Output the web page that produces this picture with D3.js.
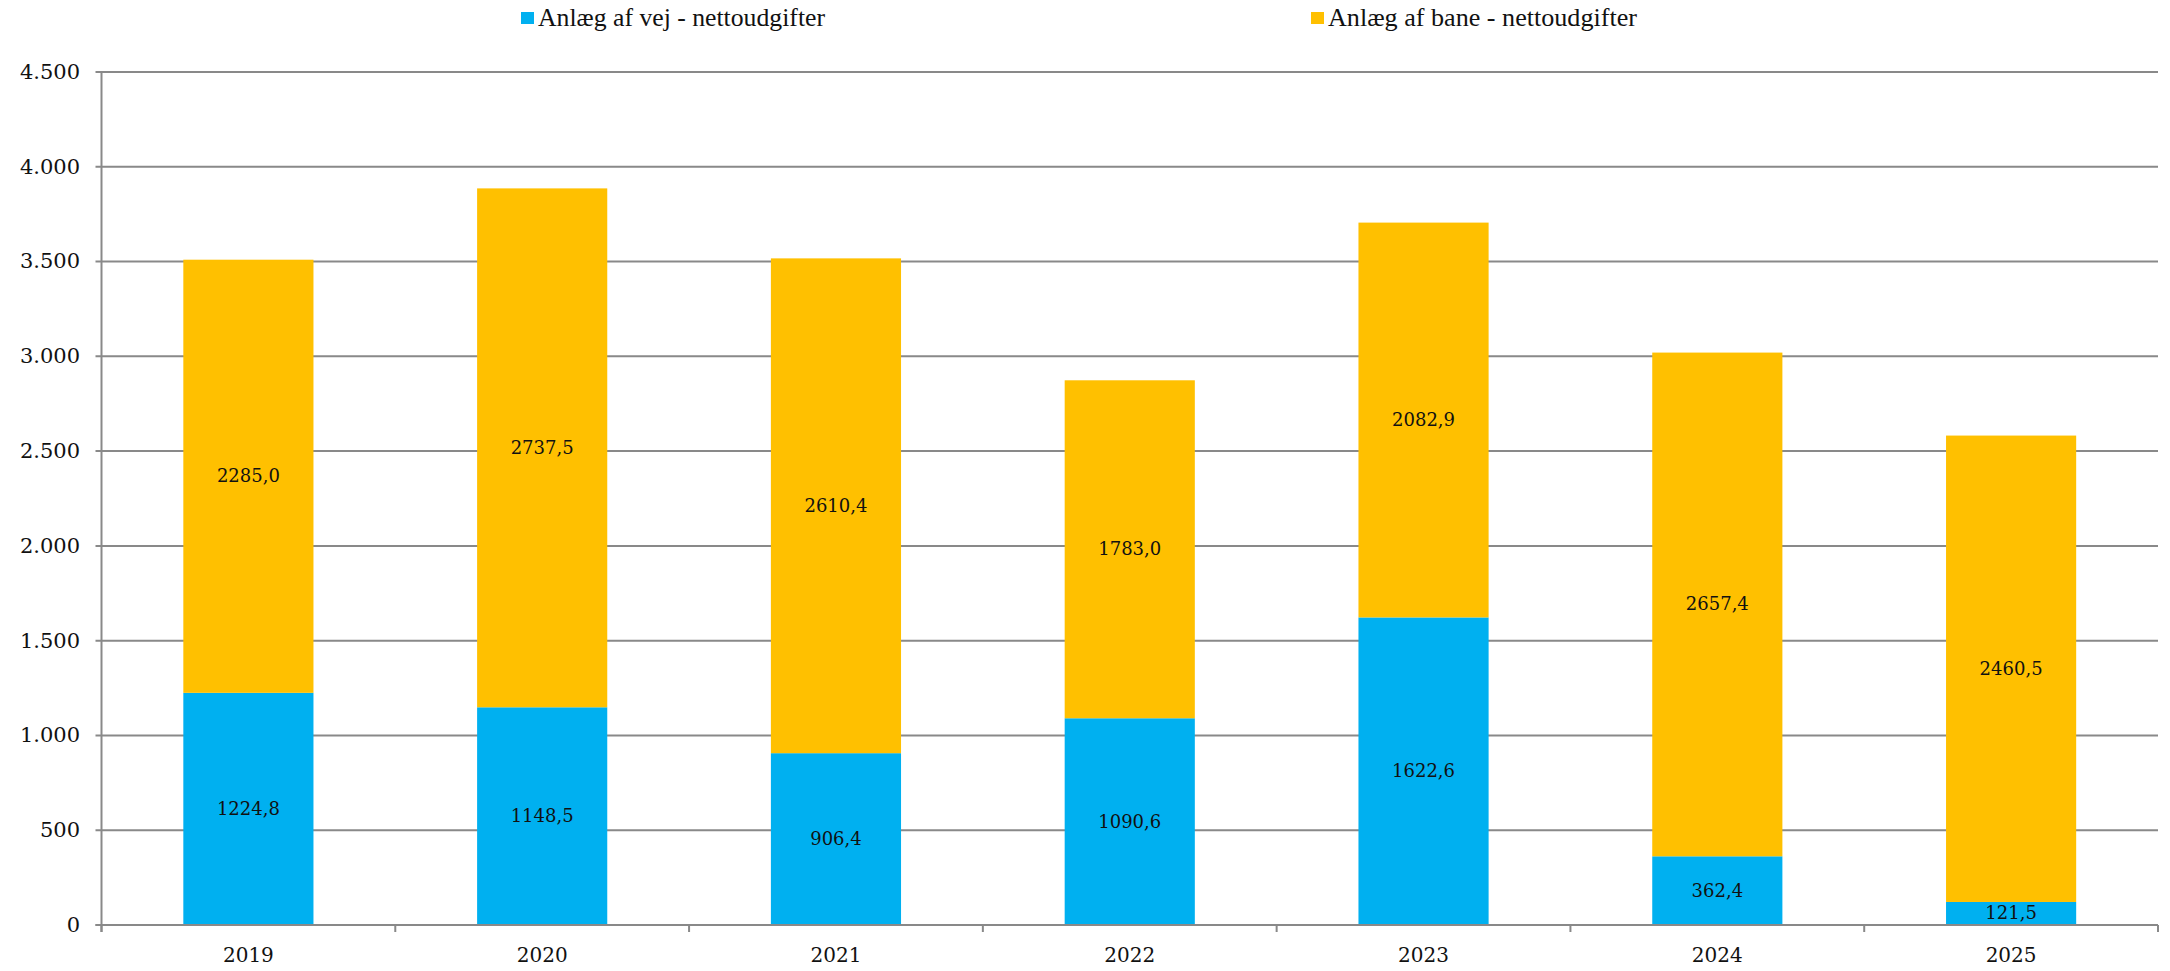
<!DOCTYPE html>
<html><head><meta charset="utf-8">
<script src="https://cdn.jsdelivr.net/npm/d3@7"></script>
<style>body{margin:0;background:#fff}svg{display:block}</style>
</head><body>
<script>
const categories = ["2019","2020","2021","2022","2023","2024","2025"];
const vej = [1224.8,1148.5,906.4,1090.6,1622.6,362.4,121.5];
const bane = [2285.0,2737.5,2610.4,1783.0,2082.9,2657.4,2460.5];
const seriesNames = ["Anlæg af vej - nettoudgifter","Anlæg af bane - nettoudgifter"];
const seriesColors = ["#00B0F0","#FFC000"];
const yTicks = [0,500,1000,1500,2000,2500,3000,3500,4000,4500];

const W = 2170, H = 971;
const pLeft = 101.5, pRight = 2158, pTop = 72, pBottom = 925;
const font = "'DejaVu Serif', 'Liberation Serif', serif";
const legFont = "'Liberation Serif', serif";
const grid = "#898989";

const svg = d3.select("body").append("svg").attr("width", W).attr("height", H);
const x = d3.scaleBand().domain(categories).range([pLeft, pRight]).padding(0);
const y = d3.scaleLinear().domain([0, 4500]).range([pBottom, pTop]);
const fmtY = d => d3.format(",")(d).replace(/,/g, ".");
const fmtV = d => d.toFixed(1).replace(".", ",");

// gridlines + y ticks
svg.append("g").selectAll("line").data(yTicks).join("line")
  .attr("x1", pLeft - 6).attr("x2", pRight)
  .attr("y1", d => y(d)).attr("y2", d => y(d))
  .attr("stroke", grid).attr("stroke-width", 2);
svg.append("g").selectAll("text").data(yTicks).join("text")
  .attr("x", 80).attr("y", d => y(d)).attr("dy", "0.33em")
  .attr("text-anchor", "end").attr("font-family", font).attr("font-size", 21)
  .attr("fill", "#111")
  .text(fmtY);

// stacked bars
const barFrac = 0.443;
const bw = x.bandwidth() * barFrac;
const cx = d => x(d) + x.bandwidth() / 2;
const stacked = categories.map((c, i) => ({c, v: vej[i], b: bane[i]}));
const g = svg.append("g");
g.selectAll("rect.v").data(stacked).join("rect").attr("class", "v")
  .attr("x", d => cx(d.c) - bw / 2).attr("width", bw)
  .attr("y", d => y(d.v)).attr("height", d => y(0) - y(d.v))
  .attr("fill", seriesColors[0]);
g.selectAll("rect.b").data(stacked).join("rect").attr("class", "b")
  .attr("x", d => cx(d.c) - bw / 2).attr("width", bw)
  .attr("y", d => y(d.v + d.b)).attr("height", d => y(d.v) - y(d.v + d.b))
  .attr("fill", seriesColors[1]);

// data labels
g.selectAll("text.lv").data(stacked).join("text").attr("class", "lv")
  .attr("x", d => cx(d.c)).attr("y", d => y(d.v / 2)).attr("dy", "0.33em")
  .attr("text-anchor", "middle").attr("font-family", font).attr("font-size", 18)
  .attr("fill", "#111")
  .text(d => fmtV(d.v));
g.selectAll("text.lb").data(stacked).join("text").attr("class", "lb")
  .attr("x", d => cx(d.c)).attr("y", d => y(d.v + d.b / 2)).attr("dy", "0.33em")
  .attr("text-anchor", "middle").attr("font-family", font).attr("font-size", 18)
  .attr("fill", "#111")
  .text(d => fmtV(d.b));

// axes lines
svg.append("line").attr("x1", pLeft).attr("x2", pLeft).attr("y1", pTop).attr("y2", pBottom + 7)
  .attr("stroke", grid).attr("stroke-width", 2);
svg.append("line").attr("x1", pLeft - 6).attr("x2", pRight).attr("y1", pBottom).attr("y2", pBottom)
  .attr("stroke", grid).attr("stroke-width", 2);
const bounds = categories.map(c => x(c)).concat([pRight]);
svg.append("g").selectAll("line").data(bounds).join("line")
  .attr("x1", d => d).attr("x2", d => d).attr("y1", pBottom).attr("y2", pBottom + 7)
  .attr("stroke", grid).attr("stroke-width", 2);
svg.append("g").selectAll("text").data(categories).join("text")
  .attr("x", d => cx(d)).attr("y", 955).attr("dy", "0.33em")
  .attr("text-anchor", "middle").attr("font-family", font).attr("font-size", 20)
  .attr("fill", "#111")
  .text(d => d);

// legend
const legX = [521, 1311];
const legLen = [287, 309];
const lg = svg.append("g");
seriesNames.forEach((n, i) => {
  lg.append("rect").attr("x", legX[i]).attr("y", 12).attr("width", 13).attr("height", 12)
    .attr("fill", seriesColors[i]);
  lg.append("text").attr("x", legX[i] + 17).attr("y", 26)
    .attr("font-family", legFont).attr("font-size", 25)
    .attr("textLength", legLen[i]).attr("lengthAdjust", "spacingAndGlyphs")
    .attr("fill", "#111")
    .text(n);
});
</script>
</body></html>
